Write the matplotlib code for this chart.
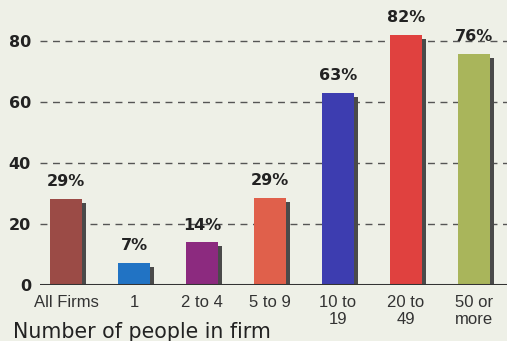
import matplotlib
matplotlib.use("Agg")
import matplotlib.pyplot as plt

categories = ["All Firms", "1", "2 to 4", "5 to 9", "10 to\n19", "20 to\n49", "50 or\nmore"]
values = [29, 7, 14, 29, 63, 82, 76]
heights = [28.3, 7.2, 14.0, 28.6, 63.0, 82.0, 75.7]
labels = ["29%", "7%", "14%", "29%", "63%", "82%", "76%"]
colors = ["#9b4b46", "#2173c4", "#8c2a7f", "#e0604b", "#3d3db0", "#e0413f", "#a9b55b"]
yticks = [0, 20, 40, 60, 80]

plt.rcParams['font.family'] = ['Liberation Sans', 'DejaVu Sans']
bg = "#eef0e7"
fig = plt.figure(figsize=(5.07, 3.41), dpi=100, facecolor=bg)
W, H = 507, 341
ax = fig.add_axes([40 / W, (H - 285) / H, 1 - 40 / W, 285 / H])
ax.set_facecolor(bg)
ax.set_xlim(-0.382, 6.485)
ax.set_ylim(0, 93.4)

# gridlines
for t in yticks[1:]:
    ax.axhline(t, color="#555555", lw=1.0, ls=(0, (5, 4)), zorder=1)

x = list(range(len(categories)))
bw = 0.47
sw = 0.075
# shadows
ax.bar([i + bw / 2 + sw / 2 - 0.01 for i in x], [h - 1.3 for h in heights], width=sw,
       color="#4a4a4a", zorder=2)
ax.bar(x, heights, width=bw, color=colors, zorder=3)

for i, (h, lab) in enumerate(zip(heights, labels)):
    ax.text(i, h + 3.2, lab, ha="center", va="bottom", fontsize=11.5, fontweight="bold",
            color="#222222", zorder=4, family="DejaVu Sans")

ax.axhline(0, color="#333333", lw=2.2, zorder=5)

for s in ax.spines.values():
    s.set_visible(False)
ax.set_yticks(yticks)
ax.set_yticklabels([str(t) for t in yticks], fontsize=11.5, fontweight="bold", color="#222222",
                   family="DejaVu Sans")
ax.tick_params(axis="y", length=0, pad=6.5)
ax.set_xticks(x)
ax.set_xticklabels(categories, fontsize=12, color="#333333", linespacing=1.15)
ax.tick_params(axis="x", length=0, pad=7)

fig.text(13 / W, (H - 338) / H, "Number of people in firm", fontsize=14.8, color="#222222",
         ha="left", va="baseline", family="DejaVu Sans")

fig.savefig("out.png", dpi=100, facecolor=bg)
